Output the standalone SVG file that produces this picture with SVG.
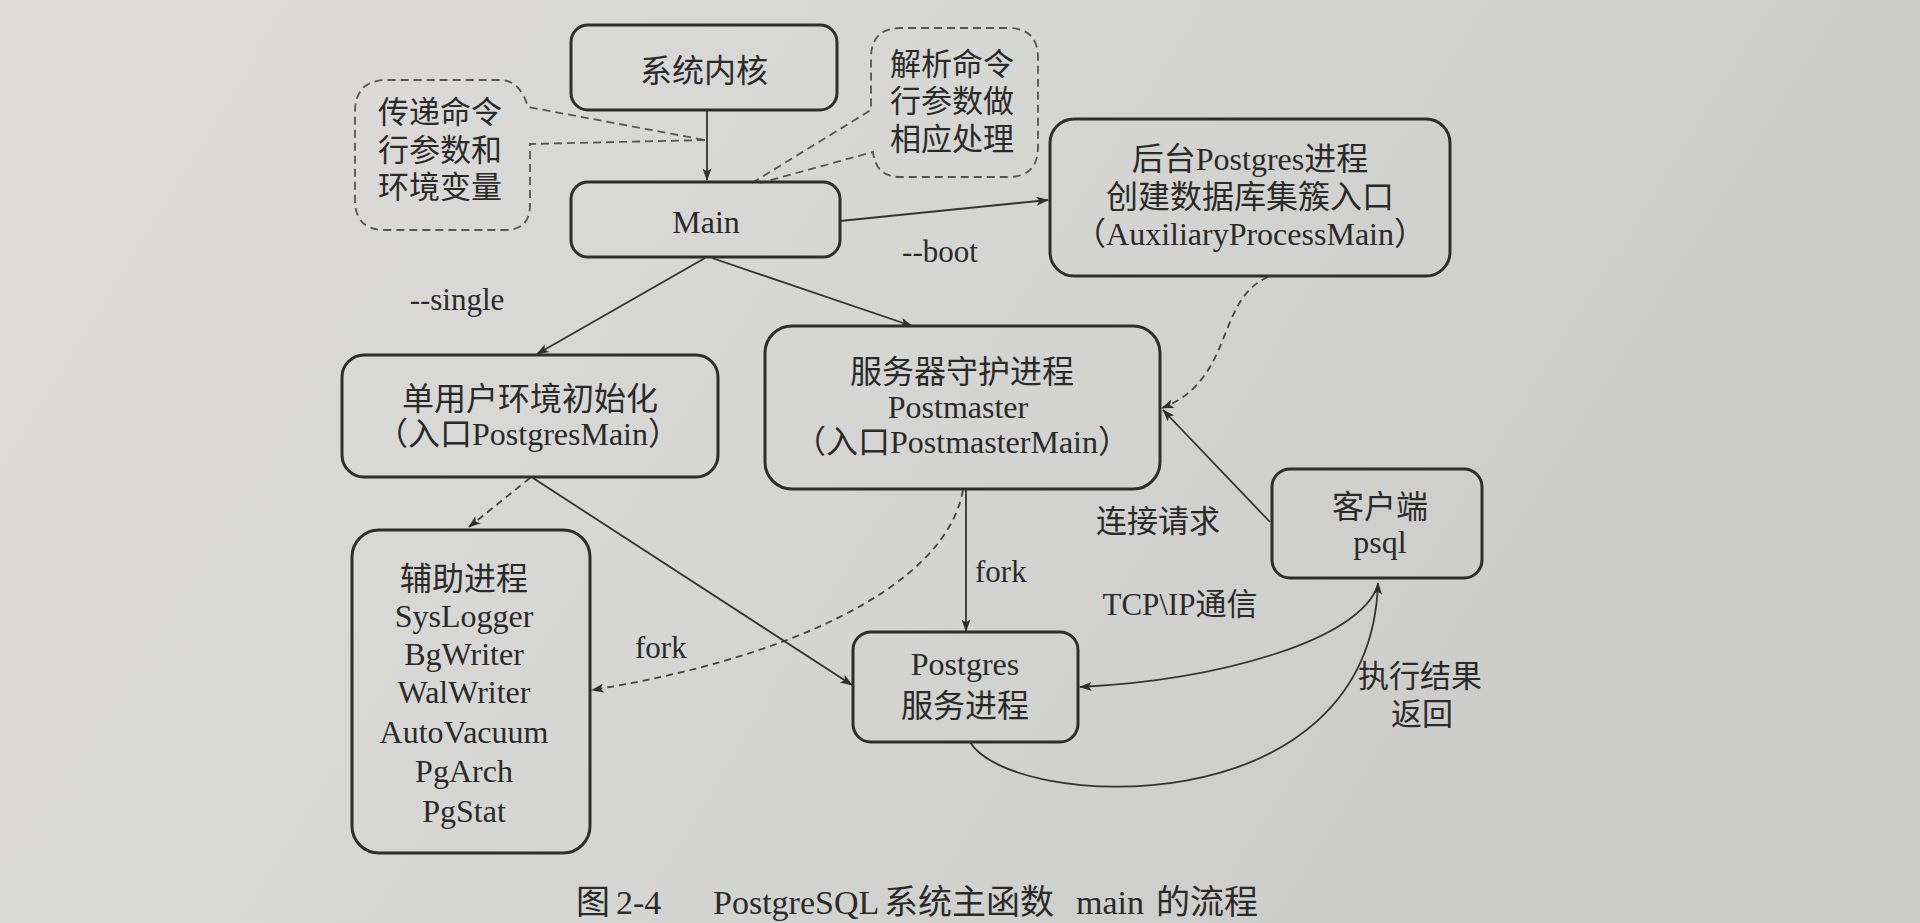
<svg xmlns="http://www.w3.org/2000/svg" width="1920" height="923" viewBox="0 0 1920 923">
<defs>
<linearGradient id="paper" x1="0" y1="0" x2="1" y2="0.3">
<stop offset="0" stop-color="#dddcda"/>
<stop offset="0.5" stop-color="#d6d6d4"/>
<stop offset="1" stop-color="#cbcbc9"/>
</linearGradient>
<marker id="arr" viewBox="0 0 14 10" refX="13" refY="5" markerWidth="14" markerHeight="9" markerUnits="userSpaceOnUse" orient="auto">
<path d="M0,0 L14,5 L0,10 L3.5,5 Z" fill="#2e2e2e"/>
</marker>
<style>
.box{fill:none;stroke:#2e2e2e;stroke-width:3}
.cloud{fill:none;stroke:#555;stroke-width:1.8;stroke-dasharray:8 5}
.t{font-family:'Liberation Serif','Noto Sans CJK SC',serif;font-size:32px;fill:#2a2a2a;text-anchor:middle}
.l{font-family:'Liberation Serif','Noto Sans CJK SC',serif;font-size:31px;fill:#2a2a2a;text-anchor:middle}
.c{fill:none;stroke:#333;stroke-width:1.8}
.d{fill:none;stroke:#444;stroke-width:1.8;stroke-dasharray:7 5}
</style>
</defs>
<rect x="0" y="0" width="1920" height="923" fill="url(#paper)"/>

<g id="connectors">
<path class="c" d="M707,110 V180" marker-end="url(#arr)"/>
<path class="c" d="M840,221 L1048,200" marker-end="url(#arr)"/>
<path class="c" d="M705,258 L537,354" marker-end="url(#arr)"/>
<path class="c" d="M712,258 L912,326" marker-end="url(#arr)"/>
<path class="d" d="M1268,277 C1215,300 1235,380 1162,408" marker-end="url(#arr)"/>
<path class="c" d="M1270,522 L1163,410" marker-end="url(#arr)"/>
<path class="c" d="M966,489 V631" marker-end="url(#arr)"/>
<path class="d" d="M963,490 C945,590 780,660 592,690" marker-end="url(#arr)"/>
<path class="d" d="M530,478 L469,527" marker-end="url(#arr)"/>
<path class="c" d="M533,478 L852,685" marker-end="url(#arr)"/>
<path class="c" d="M1378,585 C1360,640 1220,680 1080,687" marker-end="url(#arr)"/>
<path class="c" d="M970,742 C1010,810 1370,830 1378,583" marker-end="url(#arr)"/>
<text class="l" x="457" y="310">--single</text>
<text class="l" x="940" y="262">--boot</text>
<text class="l" x="635" y="658" style="text-anchor:start">fork</text>
<text class="l" x="975" y="582" style="text-anchor:start">fork</text>
<text class="l" x="1158" y="532">连接请求</text>
<text class="l" x="1180" y="615">TCP\IP通信</text>
<text class="l" x="1420" y="687">执行结果</text>
<text class="l" x="1422" y="725">返回</text>
</g>

<g id="note-pass">
<path class="cloud" d="M705,140 L530,144 V205 Q530,230 505,230 H385 Q355,230 355,200 V112 Q355,80 387,80 H500 Q520,80 528,107 Z"/>
<text class="l" x="440" y="123">传递命令</text>
<text class="l" x="440" y="161">行参数和</text>
<text class="l" x="440" y="198">环境变量</text>
</g>

<g id="note-parse">
<path class="cloud" d="M752,183 L871,110 V58 Q871,28 901,28 H1008 Q1038,28 1038,58 V147 Q1038,177 1008,177 H900 Q876,177 873,152 L760,183"/>
<text class="l" x="952" y="75">解析命令</text>
<text class="l" x="952" y="112">行参数做</text>
<text class="l" x="952" y="150">相应处理</text>
</g>

<g id="kernel">
<rect class="box" x="571" y="25" width="266" height="85" rx="17"/>
<text class="t" x="704" y="82">系统内核</text>
</g>

<g id="main">
<rect class="box" x="571" y="182" width="269" height="75" rx="17"/>
<text class="t" x="706" y="233">Main</text>
</g>

<g id="bootstrap">
<rect class="box" x="1050" y="119" width="400" height="157" rx="24"/>
<text class="t" x="1250" y="170">后台Postgres进程</text>
<text class="t" x="1250" y="208">创建数据库集簇入口</text>
<text class="t" x="1250" y="245">（AuxiliaryProcessMain）</text>
</g>

<g id="single-user">
<rect class="box" x="342" y="355" width="376" height="122" rx="22"/>
<text class="t" x="530" y="410">单用户环境初始化</text>
<text class="t" x="528" y="445">（入口PostgresMain）</text>
</g>

<g id="postmaster">
<rect class="box" x="765" y="326" width="395" height="163" rx="27"/>
<text class="t" x="962" y="383">服务器守护进程</text>
<text class="t" x="958" y="418">Postmaster</text>
<text class="t" x="962" y="453">（入口PostmasterMain）</text>
</g>

<g id="auxiliary">
<rect class="box" x="352" y="530" width="238" height="323" rx="27"/>
<text class="t" x="464" y="590">辅助进程</text>
<text class="t" x="464" y="627">SysLogger</text>
<text class="t" x="464" y="665">BgWriter</text>
<text class="t" x="464" y="703">WalWriter</text>
<text class="t" x="464" y="743">AutoVacuum</text>
<text class="t" x="464" y="782">PgArch</text>
<text class="t" x="464" y="822">PgStat</text>
</g>

<g id="postgres">
<rect class="box" x="853" y="632" width="225" height="110" rx="18"/>
<text class="t" x="965" y="675">Postgres</text>
<text class="t" x="965" y="717">服务进程</text>
</g>

<g id="client">
<rect class="box" x="1272" y="469" width="210" height="109" rx="18"/>
<text class="t" x="1380" y="518">客户端</text>
<text class="t" x="1380" y="553">psql</text>
</g>

<text font-family="'Liberation Serif','Noto Sans CJK SC',serif" font-size="34" fill="#2a2a2a" y="914"><tspan x="576">图</tspan><tspan x="616">2-4</tspan><tspan x="713">PostgreSQL</tspan><tspan x="884">系统主函数</tspan><tspan x="1076">main</tspan><tspan x="1156">的流程</tspan></text>
</svg>
